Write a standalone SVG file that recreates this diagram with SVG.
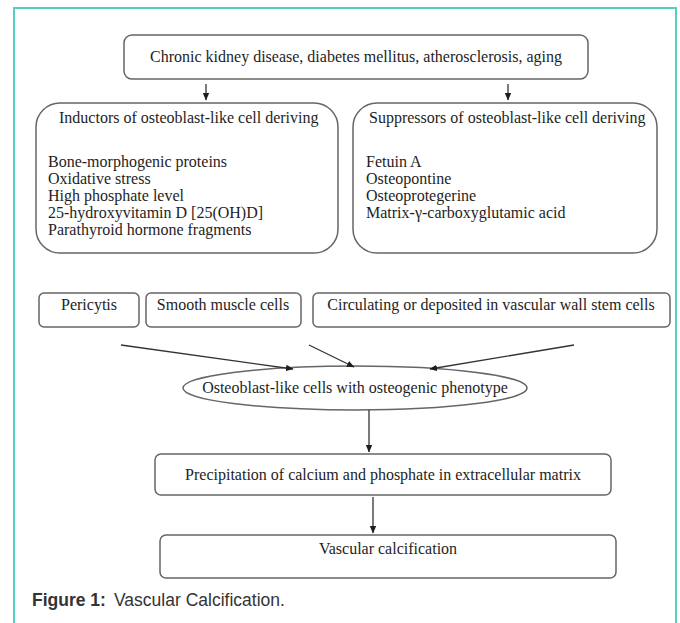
<svg xmlns="http://www.w3.org/2000/svg" width="680" height="623" viewBox="0 0 680 623">
<defs>
<marker id="ah" markerWidth="8" markerHeight="8" refX="7" refY="4" orient="auto" markerUnits="userSpaceOnUse">
<path d="M0,0.8 L7.5,4 L0,7.2 Z" fill="#1e1e1e"/>
</marker>
<style>
.box{fill:#fff;stroke:#666;stroke-width:1.5}
.t{font-family:"Liberation Serif","Times New Roman",serif;font-size:16px;fill:#1e1e1e}
.m{text-anchor:middle}
.c{stroke:#333;stroke-width:1.3;fill:none;marker-end:url(#ah)}
.cap{font-family:"Liberation Sans",Arial,sans-serif;font-size:17.5px;fill:#333}
</style>
</defs>
<rect x="0" y="0" width="680" height="623" fill="#fff"/>
<path d="M14,630 V8 H676 V630" fill="none" stroke="#55d0bf" stroke-width="2"/>

<g id="causes">
<rect class="box" x="124" y="35" width="464" height="44" rx="8"/>
<text class="t m" x="356" y="62">Chronic kidney disease, diabetes mellitus, atherosclerosis, aging</text>
</g>
<g id="inductors">
<rect class="box" x="36" y="103" width="302" height="150" rx="24"/>
<text class="t" x="59" y="123">Inductors of osteoblast-like cell deriving</text>
<text class="t" x="48" y="167">Bone-morphogenic proteins</text>
<text class="t" x="48" y="184">Oxidative stress</text>
<text class="t" x="48" y="201">High phosphate level</text>
<text class="t" x="48" y="218">25-hydroxyvitamin D [25(OH)D]</text>
<text class="t" x="48" y="235">Parathyroid hormone fragments</text>
</g>
<g id="suppressors">
<rect class="box" x="353" y="103" width="304" height="150" rx="24"/>
<text class="t" x="369" y="123">Suppressors of osteoblast-like cell deriving</text>
<text class="t" x="366" y="167">Fetuin A</text>
<text class="t" x="366" y="184">Osteopontine</text>
<text class="t" x="366" y="201">Osteoprotegerine</text>
<text class="t" x="366" y="218">Matrix-γ-carboxyglutamic acid</text>
</g>
<g id="pericytis">
<rect class="box" x="39" y="293" width="100" height="34" rx="5"/>
<text class="t m" x="89" y="310">Pericytis</text>
</g>
<g id="smooth">
<rect class="box" x="146" y="293" width="155" height="34" rx="5"/>
<text class="t m" x="223" y="310">Smooth muscle cells</text>
</g>
<g id="stem">
<rect class="box" x="313" y="293" width="357" height="34" rx="5"/>
<text class="t m" x="491" y="310">Circulating or deposited in vascular wall stem cells</text>
</g>
<g id="osteoblast">
<ellipse class="box" cx="355" cy="388" rx="172" ry="22"/>
<text class="t m" x="355" y="393">Osteoblast-like cells with osteogenic phenotype</text>
</g>
<g id="precipitation">
<rect class="box" x="155" y="454" width="456" height="41" rx="6"/>
<text class="t m" x="383" y="480">Precipitation of calcium and phosphate in extracellular matrix</text>
</g>
<g id="vascular">
<rect class="box" x="160" y="535" width="456" height="43" rx="6"/>
<text class="t m" x="388" y="554">Vascular calcification</text>
</g>

<g id="connectors">
<line class="c" x1="206" y1="84" x2="206" y2="100"/>
<line class="c" x1="508" y1="84" x2="508" y2="100"/>
<line class="c" x1="121" y1="345" x2="293" y2="369"/>
<line class="c" x1="309" y1="345" x2="354" y2="367"/>
<line class="c" x1="574" y1="345" x2="430" y2="369"/>
<line class="c" x1="369" y1="410" x2="369" y2="452"/>
<line class="c" x1="373" y1="497" x2="373" y2="533"/>
</g>

<text class="cap" x="32" y="606"><tspan font-weight="bold">Figure 1:</tspan><tspan x="114">Vascular Calcification.</tspan></text>
</svg>
